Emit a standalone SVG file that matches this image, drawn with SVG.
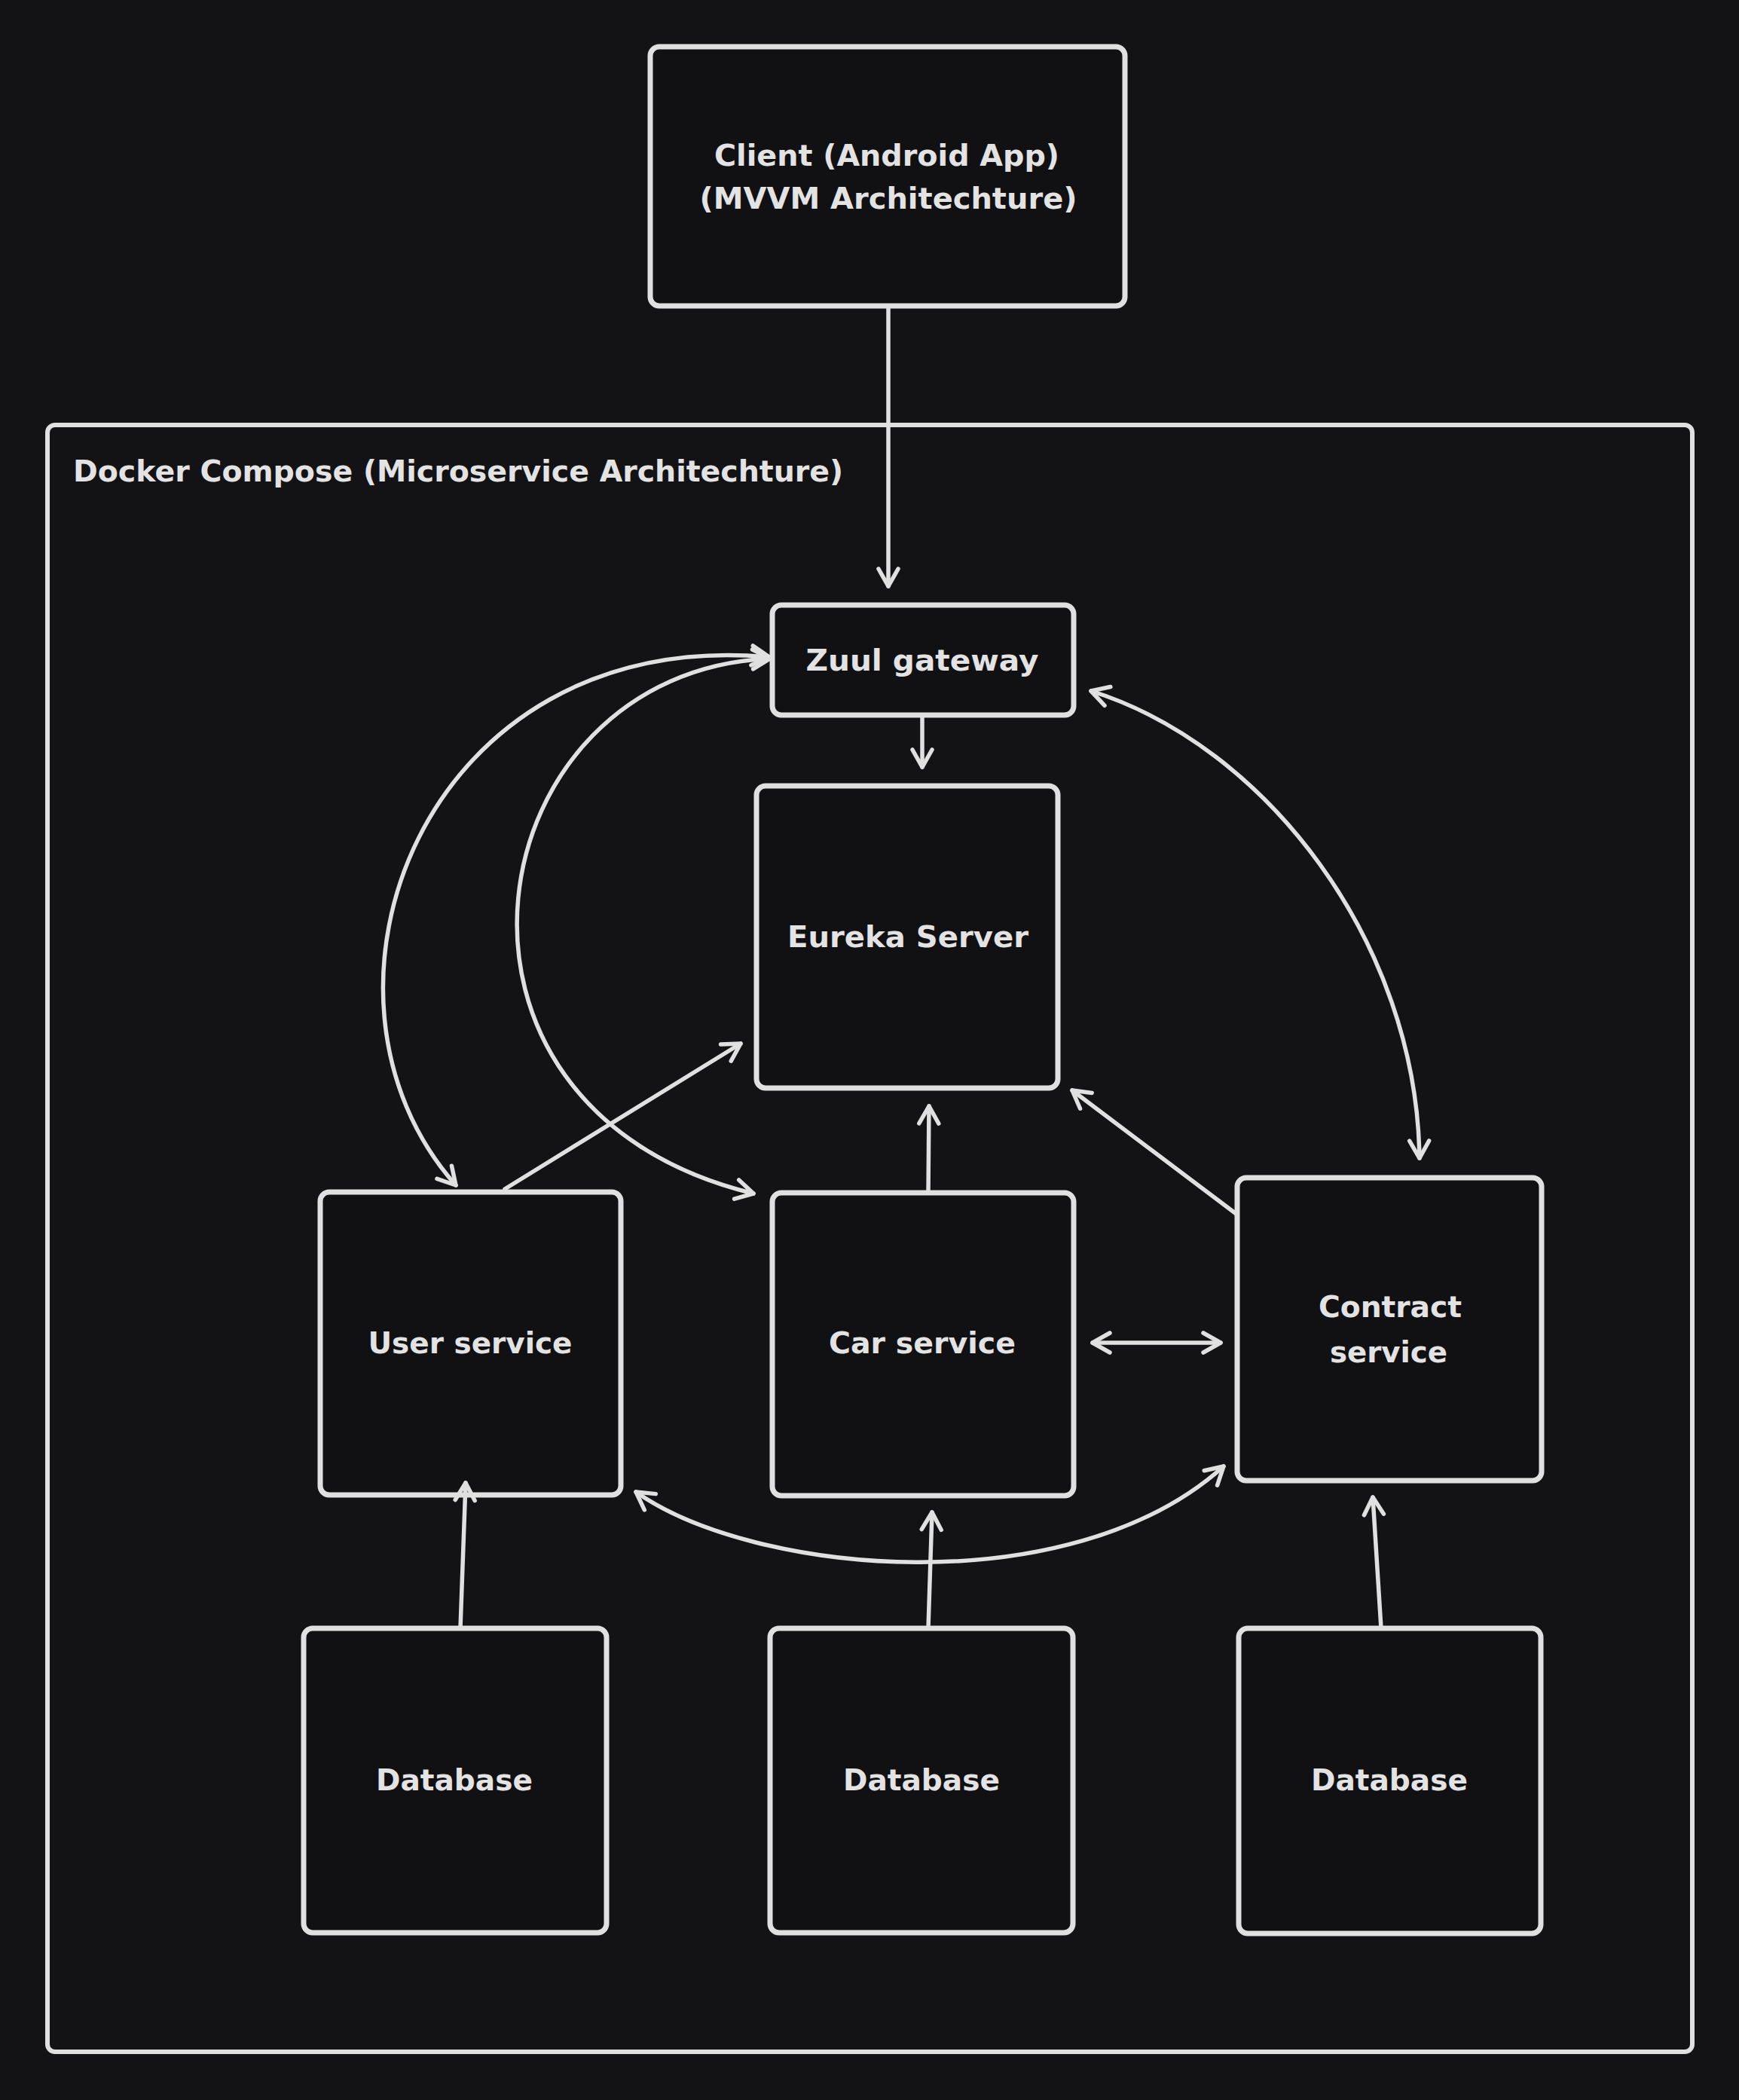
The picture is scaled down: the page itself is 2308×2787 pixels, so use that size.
<svg xmlns="http://www.w3.org/2000/svg" width="2308" height="2787" viewBox="0 0 2308 2787">
<defs>
<style>
.box{fill:#111113;stroke:#e0e0e0;stroke-width:7;}
.cont{fill:none;stroke:#e0e0e0;stroke-width:6;}
.lbl{font-family:"DejaVu Sans",sans-serif;font-weight:bold;font-size:39px;fill:#e3e3e3;}
.c{text-anchor:middle;}
.edge{fill:none;stroke:#e0e0e0;stroke-width:5.5;stroke-linecap:round;}
</style>
<marker id="ah" viewBox="-28 -17 32 34" refX="0" refY="0" markerWidth="32" markerHeight="34" markerUnits="userSpaceOnUse" orient="auto-start-reverse">
<path d="M-23,-13 L0,0 L-23,13" fill="none" stroke="#e0e0e0" stroke-width="5.5" stroke-linecap="round" stroke-linejoin="round"/>
</marker>
</defs>
<rect x="0" y="0" width="2308" height="2787" fill="#131316"/>

<g id="docker-compose">
<rect class="cont" x="63" y="564" width="2183" height="2159" rx="10"/>
<text class="lbl" x="97" y="639" textLength="1022" lengthAdjust="spacingAndGlyphs">Docker Compose (Microservice Architechture)</text>
</g>

<g id="client">
<rect class="box" x="863" y="62" width="630" height="344" rx="12"/>
<text class="lbl c" x="1177" y="220" textLength="458" lengthAdjust="spacingAndGlyphs">Client (Android App)</text>
<text class="lbl c" x="1179" y="277" textLength="501" lengthAdjust="spacingAndGlyphs">(MVVM Architechture)</text>
</g>

<g id="zuul">
<rect class="box" x="1025" y="803" width="400" height="146" rx="12"/>
<text class="lbl c" x="1224" y="890" textLength="309" lengthAdjust="spacingAndGlyphs">Zuul gateway</text>
</g>

<g id="eureka">
<rect class="box" x="1004" y="1043" width="400" height="401" rx="12"/>
<text class="lbl c" x="1205" y="1257" textLength="320" lengthAdjust="spacingAndGlyphs">Eureka Server</text>
</g>

<g id="user-service">
<rect class="box" x="425" y="1582" width="399" height="402" rx="12"/>
<text class="lbl c" x="624" y="1796" textLength="271" lengthAdjust="spacingAndGlyphs">User service</text>
</g>

<g id="car-service">
<rect class="box" x="1025" y="1583" width="400" height="402" rx="12"/>
<text class="lbl c" x="1224" y="1796" textLength="248" lengthAdjust="spacingAndGlyphs">Car service</text>
</g>

<g id="contract-service">
<rect class="box" x="1642" y="1563" width="404" height="402" rx="12"/>
<text class="lbl c" x="1845" y="1748" textLength="190" lengthAdjust="spacingAndGlyphs">Contract</text>
<text class="lbl c" x="1843" y="1808" textLength="156" lengthAdjust="spacingAndGlyphs">service</text>
</g>

<g id="db-user">
<rect class="box" x="403" y="2161" width="402" height="404" rx="12"/>
<text class="lbl c" x="603" y="2376" textLength="208" lengthAdjust="spacingAndGlyphs">Database</text>
</g>

<g id="db-car">
<rect class="box" x="1022" y="2161" width="402" height="404" rx="12"/>
<text class="lbl c" x="1223" y="2376" textLength="208" lengthAdjust="spacingAndGlyphs">Database</text>
</g>

<g id="db-contract">
<rect class="box" x="1644" y="2161" width="401" height="405" rx="12"/>
<text class="lbl c" x="1844" y="2376" textLength="208" lengthAdjust="spacingAndGlyphs">Database</text>
</g>

<g id="connectors">
<path class="edge" d="M1179,406 L1179,778" marker-end="url(#ah)"/>
<path class="edge" d="M1224,949 L1224,1018" marker-end="url(#ah)"/>
<path class="edge" d="M1021,872 C560,830 380,1320 605,1573" marker-start="url(#ah)" marker-end="url(#ah)"/>
<path class="edge" d="M1022,874 C630,890 530,1470 1000,1584" marker-start="url(#ah)" marker-end="url(#ah)"/>
<path class="edge" d="M1448,917 C1680,990 1880,1250 1884,1537" marker-start="url(#ah)" marker-end="url(#ah)"/>
<path class="edge" d="M844,1980 C1000,2090 1420,2130 1624,1946" marker-start="url(#ah)" marker-end="url(#ah)"/>
<path class="edge" d="M670,1578 L983,1385" marker-end="url(#ah)"/>
<path class="edge" d="M1232,1583 L1233,1468" marker-end="url(#ah)"/>
<path class="edge" d="M1642,1612 L1423,1447" marker-end="url(#ah)"/>
<path class="edge" d="M1450,1782 L1620,1782" marker-start="url(#ah)" marker-end="url(#ah)"/>
<path class="edge" d="M611,2161 L618,1968" marker-end="url(#ah)"/>
<path class="edge" d="M1232,2161 L1237,2007" marker-end="url(#ah)"/>
<path class="edge" d="M1833,2161 L1822,1987" marker-end="url(#ah)"/>
</g>
</svg>
